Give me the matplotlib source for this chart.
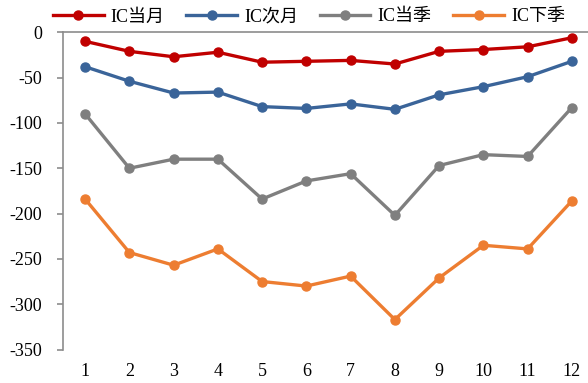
import matplotlib.pyplot as plt

plt.rcParams['font.family'] = ['Liberation Serif', 'Noto Sans CJK SC']
plt.rcParams['axes.unicode_minus'] = False

months = [1, 2, 3, 4, 5, 6, 7, 8, 9, 10, 11, 12]
ic_cur_month = [-10, -21, -27, -22, -33, -32, -31, -35, -21, -19, -16, -6]
ic_next_month = [-38, -54, -67, -66, -82, -84, -79, -85, -69, -60, -49, -32]
ic_cur_quarter = [-90, -150, -140, -140, -184, -164, -156, -202, -147, -135, -137, -83]
ic_next_quarter = [-184, -243, -257, -239, -275, -280, -269, -317, -271, -235, -239, -186]

series = [
    ('IC当月', ic_cur_month, '#C00000'),
    ('IC次月', ic_next_month, '#3A6499'),
    ('IC当季', ic_cur_quarter, '#7F7F7F'),
    ('IC下季', ic_next_quarter, '#ED7D31'),
]

W, H = 588, 383
fig = plt.figure(figsize=(W / 100, H / 100), dpi=100)
# plot area: left spine at x=63, zero line at y=32, -350 at y=350
ax = fig.add_axes([63 / W, (H - 349.5) / H, 531 / W, (349.5 - 32.3) / H])

for name, vals, color in series:
    ax.plot(months, vals, color=color, lw=2.4, marker='o', ms=6.5,
            label=name, clip_on=False, zorder=3)

ax.set_xlim(0.5, 12.5)
ax.set_ylim(-350, 0)
ax.set_yticks(range(-350, 1, 50))
ax.set_xticks(months)

for s in ['right', 'bottom']:
    ax.spines[s].set_visible(False)
for s in ['left', 'top']:
    ax.spines[s].set_color('#8C8C8C')
    ax.spines[s].set_linewidth(1.2)

ax.tick_params(axis='y', direction='out', length=4, width=1.2, color='#8C8C8C',
               pad=11, labelsize=13)
ax.tick_params(axis='x', length=0, pad=10, labelsize=13)

fig.legend(loc='center left', bbox_to_anchor=(53 / W, 1 - 17 / H), ncol=4,
           frameon=False, fontsize=13, handlelength=2.8, handletextpad=0.4,
           columnspacing=1.2, borderpad=0, borderaxespad=0)

fig.savefig('out.png', dpi=100)
